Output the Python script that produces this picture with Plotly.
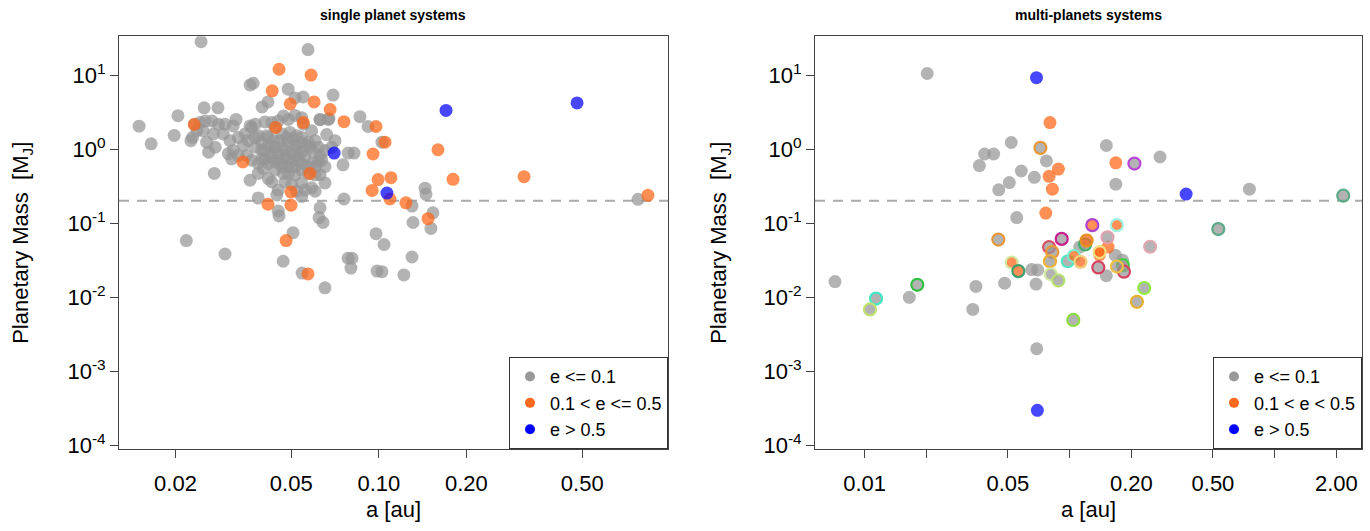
import plotly.graph_objects as go

FONT = "Liberation Sans, Arial, sans-serif"

# ---------------- single planet systems ----------------
single_gray_a = [0.0245, 0.0571, 0.0361, 0.0370, 0.0488, 0.0696, 0.0549, 0.0515, 0.0416, 0.0397,
                 0.0251, 0.0280, 0.0861, 0.0204, 0.0674, 0.0628, 0.0150, 0.0165, 0.0198, 0.0918,
                 0.1025, 0.0822, 0.0784, 0.0753, 0.0272, 0.1300, 0.0759, 0.0385, 0.0628, 0.0623,
                 0.0643, 0.0451, 0.0454, 0.1311, 0.0507, 0.0218, 0.0978, 0.1042, 0.0296, 0.0469,
                 0.0784, 0.0809, 0.0802, 0.1300, 0.1442, 0.1452, 0.778, 0.1534, 0.1510, 0.0986,
                 0.1025, 0.1219, 0.0653, 0.0545,
                 # dense cluster
                 0.0233, 0.0243, 0.0253, 0.0267, 0.0281, 0.0296, 0.0316, 0.0323, 0.0361, 0.0376,
                 0.0406, 0.0429, 0.0451, 0.0470, 0.0489, 0.0515, 0.0543, 0.0550, 0.0588, 0.0628,
                 0.0670, 0.0229, 0.0237, 0.0249, 0.0256, 0.0270, 0.0292, 0.0308, 0.0329, 0.0347,
                 0.0366, 0.0385, 0.0412, 0.0440, 0.0464, 0.0495, 0.0522, 0.0543, 0.0572, 0.0604,
                 0.0662, 0.0707, 0.0226, 0.0260, 0.0274, 0.0304, 0.0316, 0.0342, 0.0356, 0.0376,
                 0.0396, 0.0417, 0.0440, 0.0464, 0.0489, 0.0515, 0.0543, 0.0580, 0.0620, 0.0653,
                 0.0688, 0.0312, 0.0329, 0.0352, 0.0366, 0.0385, 0.0406, 0.0429, 0.0451, 0.0476,
                 0.0502, 0.0529, 0.0557, 0.0588, 0.0620, 0.0653, 0.0361, 0.0385, 0.0401, 0.0417,
                 0.0440, 0.0464, 0.0489, 0.0515, 0.0543, 0.0572, 0.0604, 0.0628, 0.0429, 0.0451,
                 0.0476, 0.0502, 0.0543, 0.0557, 0.0588, 0.0604, 0.0653, 0.0446, 0.0543, 0.0522,
                 0.0376, 0.0396, 0.0417, 0.0434, 0.0457, 0.0483, 0.0508, 0.0536, 0.0565, 0.0596,
                 0.0628, 0.0406, 0.0429, 0.0451, 0.0476, 0.0502, 0.0529, 0.0440, 0.0464, 0.0489,
                 0.0515, 0.0543, 0.0572, 0.0417, 0.0396, 0.0604, 0.0636, 0.0489, 0.0522, 0.0470]
single_gray_m = [28.3, 22.1, 7.37, 7.76, 6.46, 5.37, 5.06, 4.91, 4.34, 3.72,
                 3.61, 3.61, 2.74, 2.83, 2.58, 2.50, 2.04, 1.18, 1.53, 2.02,
                 1.24, 0.885, 0.885, 0.613, 0.470, 0.170, 0.212, 0.219, 0.161, 0.119,
                 0.102, 0.146, 0.125, 0.102, 0.0743, 0.0582, 0.0721, 0.0515, 0.0383, 0.0306,
                 0.0336, 0.0336, 0.0247, 0.0349, 0.297, 0.245, 0.210, 0.138, 0.0848, 0.0225,
                 0.0221, 0.0200, 0.0134, 0.0212,
                 2.17, 2.28, 2.40, 2.40, 2.17, 2.17, 2.06, 2.52, 2.06, 2.17,
                 2.33, 2.28, 2.40, 2.80, 2.52, 2.85, 2.66, 2.17, 1.77, 2.52,
                 2.52, 1.44, 1.77, 1.77, 1.24, 1.60, 1.60, 1.30, 1.44, 1.60,
                 1.96, 1.52, 1.52, 1.96, 1.60, 1.68, 1.52, 1.44, 1.24, 1.30,
                 1.57, 1.30, 1.30, 0.91, 1.06, 0.87, 0.96, 1.12, 1.30, 1.06,
                 0.96, 1.12, 1.06, 1.06, 1.24, 1.12, 0.91, 1.06, 1.06, 0.96,
                 1.06, 0.74, 0.82, 0.82, 0.71, 0.64, 0.74, 0.78, 0.71, 0.82,
                 0.67, 0.71, 0.78, 0.64, 0.67, 0.58, 0.38, 0.47, 0.55, 0.40,
                 0.52, 0.58, 0.47, 0.45, 0.52, 0.47, 0.58, 0.45, 0.36, 0.28,
                 0.36, 0.33, 0.35, 0.28, 0.30, 0.27, 0.35, 0.24, 0.23, 0.27,
                 1.44, 1.24, 1.44, 1.30, 1.30, 1.44, 1.37, 1.24, 1.12, 0.91,
                 0.82, 0.96, 0.91, 0.87, 0.96, 0.87, 0.82, 0.67, 0.64, 0.58,
                 0.58, 0.64, 0.58, 0.64, 0.74, 0.45, 0.71, 0.74, 0.96, 0.47]

single_orange_a = [0.0454, 0.0585, 0.0430, 0.0599, 0.0496, 0.0680, 0.0759, 0.0232, 0.0978, 0.1050,
                   0.0955, 0.0341, 0.0994, 0.1101, 0.0948, 0.1092, 0.1239, 0.0416, 0.0499, 0.0499,
                   0.0480, 0.0571, 0.1597, 0.1799, 0.3155, 0.841, 0.1476, 0.0442, 0.0550, 0.0580]
single_orange_m = [12.0, 10.0, 6.13, 4.34, 4.08, 3.43, 2.35, 2.15, 2.02, 1.24,
                   0.859, 0.672, 0.388, 0.412, 0.277, 0.212, 0.188, 0.180, 0.175, 0.263,
                   0.0582, 0.0206, 0.98, 0.391, 0.425, 0.238, 0.115, 1.96, 2.28, 0.47]

single_blue_a = [0.0702, 0.1702, 0.4800, 0.1066]
single_blue_m = [0.885, 3.33, 4.21, 0.255]

# ---------------- multi-planets systems ----------------
multi_gray_a = [0.0202, 0.0519, 0.0385, 0.0426, 0.0363, 0.0770, 0.0581, 0.0673, 0.0508, 0.0451,
                0.151, 0.0552, 0.112, 0.0653, 0.0699, 0.00717, 0.01652, 0.0349, 0.0337, 0.0482,
                0.0686, 0.0691, 0.151, 0.276, 0.168, 0.753, 0.167, 0.181]
multi_gray_m = [10.5, 1.23, 0.859, 0.859, 0.600, 0.693, 0.506, 0.416, 0.353, 0.282,
                1.12, 0.119, 0.0475, 0.0236, 0.0233, 0.01626, 0.00997, 0.01396, 0.00684, 0.01548,
                0.01502, 0.00201, 0.0195, 0.783, 0.336, 0.288, 0.0369, 0.0316]

multi_gray_ring_a = [0.0720, 0.0449, 0.0915, 0.0794, 0.0823, 0.0802, 0.0979, 0.119, 0.138, 0.153,
                     0.01137, 0.01062, 0.01807, 0.0809, 0.0881, 0.1042, 0.207, 2.16, 0.531, 0.247,
                     0.182, 0.184, 0.170, 0.231, 0.213]
multi_gray_ring_m = [1.04, 0.060, 0.0613, 0.0475, 0.0407, 0.0306, 0.0306, 0.0515, 0.0252, 0.0644,
                     0.00958, 0.00684, 0.01470, 0.0204, 0.0168, 0.00493, 0.638, 0.235, 0.0832, 0.048,
                     0.0271, 0.0221, 0.0259, 0.0133, 0.00867]
multi_gray_ring_col = ["#E8983A", "#E8983A", "#C8208F", "#D9506A", "#E8983A", "#F0B030", "#50E8C0",
                       "#3CB371", "#D94060", "#E0A0B0", "#40E8C8", "#C0E070", "#30C040", "#D0E8A0",
                       "#B8E070", "#8BE040", "#BB44DD", "#5BAA88", "#5BAA88", "#E0A8B0", "#44D044",
                       "#D94060", "#F0C040", "#90EE40", "#E8B030"]

multi_orange_a = [0.0802, 0.0881, 0.0794, 0.0824, 0.0765, 0.140, 0.168, 0.154]
multi_orange_m = [2.28, 0.537, 0.429, 0.288, 0.137, 0.0376, 0.652, 0.0475]

multi_orange_ring_a = [0.129, 0.105, 0.121, 0.113, 0.0522, 0.0562, 0.170, 0.140]
multi_orange_ring_m = [0.094, 0.036, 0.0582, 0.030, 0.0294, 0.0225, 0.094, 0.0407]
multi_orange_ring_col = ["#B040D0", "#70F0D0", "#E89020", "#F0D080", "#D0E8A0", "#3CA070",
                         "#A0F0E0", "#F0E080"]

multi_blue_a = [0.0689, 0.0696, 0.370]
multi_blue_m = [9.23, 0.000296, 0.247]

mass_threshold = 0.2

left_xticks = [0.02, 0.05, 0.1, 0.2, 0.5]
left_xtext = ["0.02", "0.05", "0.10", "0.20", "0.50"]
right_xticks = [0.01, 0.02, 0.05, 0.1, 0.2, 0.5, 1, 2]
right_xtext = ["0.01", "", "0.05", "", "0.20", "0.50", "", "2.00"]
yticks = [1e-4, 1e-3, 1e-2, 1e-1, 1, 10]
ytext = ["10<sup>-4</sup>", "10<sup>-3</sup>", "10<sup>-2</sup>", "10<sup>-1</sup>",
         "10<sup>0</sup>", "10<sup>1</sup>"]

legend_left = ["e &lt;= 0.1", "0.1 &lt; e &lt;= 0.5", "e &gt; 0.5"]
legend_right = ["e &lt;= 0.1", "0.1 &lt; e &lt; 0.5", "e &gt; 0.5"]

GRAY = "rgba(150,150,150,0.72)"
ORANGE = "rgba(255,100,20,0.72)"
BLUE = "rgba(0,0,255,0.72)"
LEG_COLS = ["#999999", "#FF6A1F", "#0000FF"]
MS = 13

W, H = 1370, 531
fig = go.Figure()


def pts(x, y, xa, ya, color, ring=None):
    marker = dict(size=MS, color=color, line=dict(width=0))
    if ring is not None:
        marker = dict(size=MS - 1, color=color, line=dict(width=2.2, color=ring))
    fig.add_trace(go.Scatter(x=x, y=y, mode="markers", xaxis=xa, yaxis=ya,
                             marker=marker, showlegend=False, hoverinfo="skip"))


pts(single_gray_a, single_gray_m, "x", "y", GRAY)
pts(single_orange_a, single_orange_m, "x", "y", ORANGE)
pts(single_blue_a, single_blue_m, "x", "y", BLUE)

pts(multi_gray_a, multi_gray_m, "x2", "y2", GRAY)
pts(multi_orange_a, multi_orange_m, "x2", "y2", ORANGE)
pts(multi_gray_ring_a, multi_gray_ring_m, "x2", "y2", GRAY, multi_gray_ring_col)
pts(multi_orange_ring_a, multi_orange_ring_m, "x2", "y2", ORANGE, multi_orange_ring_col)
pts(multi_blue_a, multi_blue_m, "x2", "y2", BLUE)

for name, col in zip(legend_left, LEG_COLS):
    fig.add_trace(go.Scatter(x=[None], y=[None], mode="markers", name=name, xaxis="x", yaxis="y",
                             marker=dict(size=10, color=col), legend="legend"))
for name, col in zip(legend_right, LEG_COLS):
    fig.add_trace(go.Scatter(x=[None], y=[None], mode="markers", name=name, xaxis="x2", yaxis="y2",
                             marker=dict(size=10, color=col), legend="legend2"))

# plot-area geometry (pixels)
L1, R1 = 119, 668
L2, R2 = 815, 1362
TOP, BOT = 37, 457
ydom = [1 - BOT / H, 1 - TOP / H]

axis_common = dict(type="log", showgrid=False, zeroline=False, showline=True, mirror=True,
                   linecolor="#444444", linewidth=1, ticks="outside", ticklen=8,
                   tickcolor="#444444", tickfont=dict(size=22, color="black", family=FONT))

legend_common = dict(y=1 - BOT / H, yanchor="bottom", xanchor="right",
                     bordercolor="#333333", borderwidth=1, bgcolor="white",
                     font=dict(size=18, family=FONT, color="black"), itemsizing="trace",
                     tracegroupgap=0)

fig.update_layout(
    width=W, height=H, paper_bgcolor="white", plot_bgcolor="white",
    margin=dict(l=0, r=0, t=0, b=0), font=dict(family=FONT, color="black"),
    xaxis=dict(axis_common, domain=[L1 / W, R1 / W], anchor="y", range=[-1.893, -0.0062],
               tickvals=left_xticks, ticktext=left_xtext, ticklabelstandoff=6),
    yaxis=dict(axis_common, domain=ydom, anchor="x", range=[-4.054, 1.523],
               tickvals=yticks, ticktext=ytext),
    xaxis2=dict(axis_common, domain=[L2 / W, R2 / W], anchor="y2", range=[-2.242, 0.426],
                tickvals=right_xticks, ticktext=right_xtext, ticklabelstandoff=6),
    yaxis2=dict(axis_common, domain=ydom, anchor="x2", range=[-4.054, 1.523],
                tickvals=yticks, ticktext=ytext),
    legend=dict(legend_common, x=R1 / W),
    legend2=dict(legend_common, x=R2 / W),
)

for xr in ["x domain", "x2 domain"]:
    yr = "y" if xr == "x domain" else "y2"
    fig.add_shape(type="line", xref=xr, x0=0, x1=1, yref=yr, y0=mass_threshold, y1=mass_threshold,
                  line=dict(color="#AAAAAA", width=2, dash="10px,8px"), layer="below")

annots = [
    dict(text="<b>single planet systems</b>", x=(L1 + R1) / 2 / W, y=1 - 15 / H, size=14, angle=0),
    dict(text="<b>multi-planets systems</b>", x=(L2 + R2) / 2 / W, y=1 - 15 / H, size=14, angle=0),
    dict(text="a [au]", x=(L1 + R1) / 2 / W, y=1 - 518 / H, size=22, angle=0),
    dict(text="a [au]", x=(L2 + R2) / 2 / W, y=1 - 518 / H, size=22, angle=0),
    dict(text="Planetary Mass  [M<sub>J</sub>]", x=22 / W, y=1 - 247 / H, size=22, angle=-90),
    dict(text="Planetary Mass  [M<sub>J</sub>]", x=720 / W, y=1 - 247 / H, size=22, angle=-90),
]
for a in annots:
    fig.add_annotation(text=a["text"], x=a["x"], y=a["y"], xref="paper", yref="paper",
                       xanchor="center", yanchor="middle", showarrow=False, textangle=a["angle"],
                       font=dict(size=a["size"], family=FONT, color="black"))

fig.write_html("out.html")
